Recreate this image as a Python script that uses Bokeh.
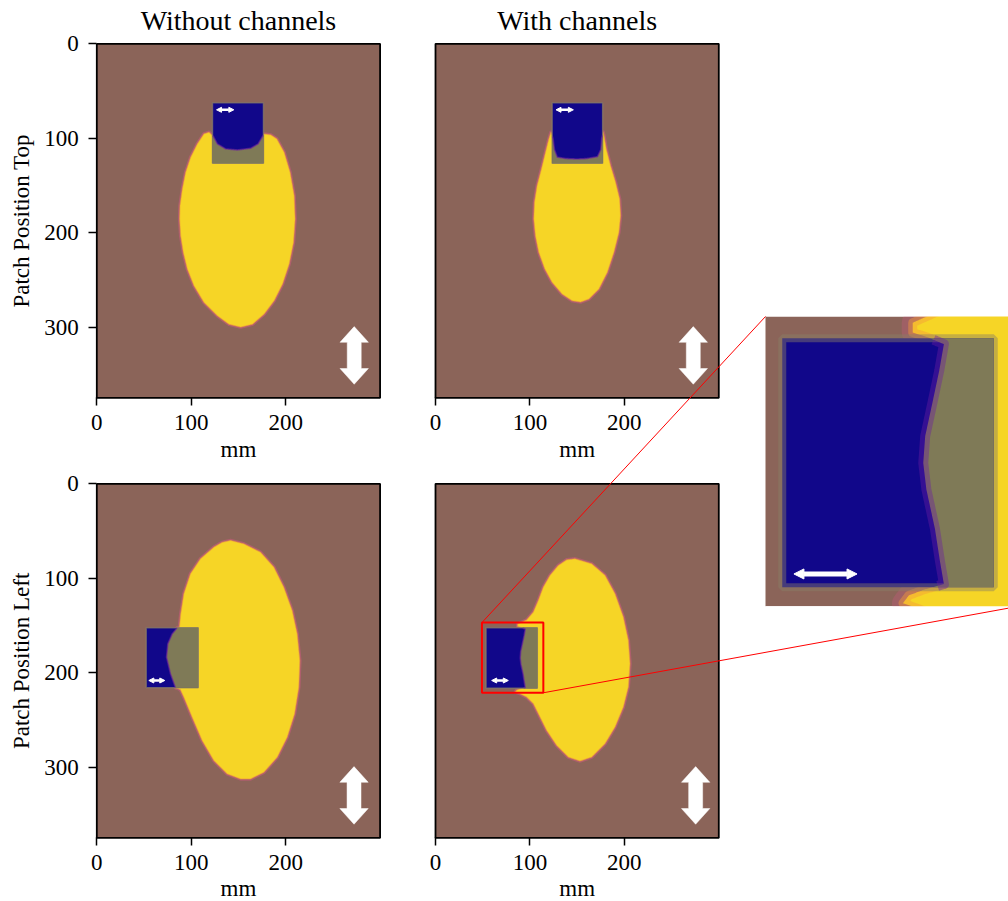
import numpy as np
from bokeh.plotting import figure
from bokeh.models import Range1d, LinearAxis, FixedTicker, Arrow, NormalHead
from bokeh.core.properties import value
from bokeh.embed import file_html
from bokeh.resources import INLINE

# ---------------------------------------------------------------- data
TITLES = ["Without channels", "With channels"]
ROW_LABELS = ["Patch Position Top", "Patch Position Left"]
X_LABEL = "mm"
X_TICKS = [0, 100, 200]
Y_TICKS = [0, 100, 200, 300]
X_EXTENT = [0, 300]
Y_EXTENT = [0, 375]

# blob outlines in mm
TL_BLOB_X = [118.8, 113.5, 106.5, 99.4, 94.1, 90.6, 88.1, 87.7, 88.8, 91.6,
             95.9, 102.9, 113.5, 127.7, 140.0, 152.4, 164.8, 177.2, 187.8, 196.7,
             203.7, 208.3, 210.0, 209.0, 204.7, 198.4, 190.6, 184.3, 177.2, 175.5,
             170.8, 163.0, 148.9, 136.5, 127.7, 123.5]
TL_BLOB_Y = [93.7, 95.4, 106.0, 120.2, 136.1, 153.7, 171.4, 185.5, 203.2, 220.9,
             238.5, 256.2, 273.9, 288.0, 297.0, 300.0, 297.0, 286.2, 272.1, 254.4,
             233.2, 210.3, 185.5, 160.8, 136.1, 114.9, 100.7, 96.5, 95.5, 98.0,
             106.0, 110.6, 112.4, 111.3, 106.0, 98.0]

TR_BLOB_X = [122.3, 120.0, 116.5, 112.2, 107.6, 104.8, 104.1, 105.8, 109.4, 115.8,
             123.5, 134.1, 144.7, 153.6, 162.4, 173.0, 181.9, 188.9, 194.2, 196.0,
             195.0, 190.7, 185.4, 180.8, 178.4, 177.5, 176.0, 175.0, 171.5, 160.0,
             150.0, 138.0, 129.0, 126.0, 124.5]
TR_BLOB_Y = [93.5, 100.9, 114.9, 132.5, 150.2, 167.9, 185.5, 203.2, 220.9, 238.5,
             252.6, 265.0, 272.1, 273.5, 270.3, 259.7, 242.1, 220.9, 199.7, 182.0,
             164.4, 146.7, 129.1, 111.4, 97.3, 93.5, 100.0, 112.0, 119.5, 121.5,
             122.0, 121.5, 120.0, 112.0, 100.0]

BL_BLOB_X = [141.6, 155.7, 173.3, 187.5, 198.0, 206.9, 212.2, 215.0, 213.9, 209.4,
             201.6, 191.0, 176.9, 162.8, 152.2, 138.1, 124.0, 111.6, 101.0, 92.2,
             88.5, 86.0, 83.3, 78.0, 73.8, 75.2, 79.8, 85.1, 87.5, 88.9,
             92.2, 99.2, 109.8, 124.0, 132.8]
BL_BLOB_Y = [60.0, 63.6, 72.4, 88.3, 109.5, 134.2, 158.9, 187.2, 215.4, 243.7,
             268.4, 289.6, 305.5, 312.5, 312.5, 307.2, 293.1, 271.9, 247.2, 226.0,
             218.0, 216.8, 216.0, 201.2, 183.6, 169.5, 159.0, 152.5, 151.5, 137.7,
             116.5, 95.3, 79.4, 67.1, 62.0]

BR_BLOB_X = [147.7, 165.4, 179.5, 190.1, 198.9, 204.2, 206.0, 204.2, 198.9, 190.1,
             179.5, 165.4, 153.0, 140.7, 128.3, 117.7, 108.9, 103.6, 96.5, 89.5,
             84.5, 86.0, 90.0, 95.0, 94.0, 92.7, 90.5, 89.7, 90.2, 92.0,
             93.8, 95.0, 91.0, 87.0, 87.0, 91.5, 96.5, 103.6, 108.9, 114.2,
             121.2, 130.0, 138.9]
BR_BLOB_Y = [79.4, 84.7, 96.9, 116.4, 141.1, 165.8, 190.5, 215.2, 236.4, 257.6,
             275.2, 289.4, 293.6, 289.4, 277.0, 261.1, 243.4, 232.8, 225.8, 222.3,
             220.5, 218.5, 217.0, 215.6, 209.8, 201.4, 191.3, 184.5, 177.6, 169.3,
             160.8, 154.0, 152.3, 151.0, 148.5, 146.5, 144.2, 135.9, 123.5, 109.4,
             97.1, 86.5, 80.5]

# patch boxes [x0, x1, y0, y1] in mm
TL_PATCH = [122.5, 176.5, 62.5, 126.5]
TR_PATCH = [123.5, 177.0, 62.5, 126.5]
BL_PATCH = [52.3, 107.4, 152.5, 216.0]
BR_PATCH = [53.5, 107.8, 152.5, 216.4]

# small horizontal double arrows: [x0, x1], y
TL_ARROW_X, TL_ARROW_Y = [126.8, 145.1], 69.9
TR_ARROW_X, TR_ARROW_Y = [127.6, 146.0], 69.9
BL_ARROW_X, BL_ARROW_Y = [55.1, 72.0], 208.3
BR_ARROW_X, BR_ARROW_Y = [59.5, 77.1], 208.3

# big vertical double arrows: centre x per panel, [y top, y bottom]
BIG_ARROW_CX = {"TL": 272.6, "TR": 273.0, "BL": 272.4, "BR": 275.5}
BIG_ARROW_Y = [299.5, 360.5]

# zoomed region (bottom-right panel) and the inset's own arrow
ZOOM_X = [49.2, 114.2]
ZOOM_Y = [146.9, 221.3]
INSET_ARROW_X, INSET_ARROW_Y = [56.5, 72.7], 213.0

# ---------------------------------------------------------------- layout / style
W, H = 1008, 901
S = 0.9443                              # px per mm in the four panels
ORIGINS = {"TL": (96.3, 43.3), "TR": (435.0, 43.3),
           "BL": (96.3, 483.3), "BR": (435.0, 483.3)}
INSET_PX = (765.0, 316.0)               # canvas px of (ZOOM_X[0], ZOOM_Y[0])
INSET_S = 3.895

FONT = "Liberation Serif"
BROWN = "#8b6459"
YELLOW = "#f6d526"
BLUE = "#11078a"
OLIVE = "#7f7a57"
HALO = "#c65a7c"
ORANGE = "#f39c3c"
PURPLE = "#6b1fa0"
PEDGE = "#8a7e66"

p = figure(width=W, height=H, x_range=Range1d(0, W), y_range=Range1d(H, 0),
           output_backend="svg", toolbar_location=None, tools="",
           x_axis_location=None, y_axis_location=None, min_border=0)
p.outline_line_color = None
p.title.visible = False
p.grid.visible = False
p.background_fill_color = "white"
p.border_fill_color = "white"

xr, yr = {}, {}
MAP = {}


def add_space(name, px0, py0, s, x0=0.0, y0=0.0):
    xr[name + "x"] = Range1d(x0 - px0 / s, x0 + (W - px0) / s)
    yr[name + "y"] = Range1d(y0 + (H - py0) / s, y0 - py0 / s)
    MAP[name] = (px0, py0, s, x0, y0)


def to_canvas(name, x, y):
    px0, py0, s, x0, y0 = MAP[name]
    return px0 + (x - x0) * s, py0 + (y - y0) * s


for k, (ox, oy) in ORIGINS.items():
    add_space(k, ox, oy, S)
add_space("IN", INSET_PX[0], INSET_PX[1], INSET_S, ZOOM_X[0], ZOOM_Y[0])
p.extra_x_ranges = xr
p.extra_y_ranges = yr


def densify(xs, ys, step=0.2):
    xs = list(xs) + [xs[0]]
    ys = list(ys) + [ys[0]]
    ox, oy = [], []
    for i in range(len(xs) - 1):
        n = max(1, int(np.hypot(xs[i + 1] - xs[i], ys[i + 1] - ys[i]) / step))
        t = np.arange(n) / n
        ox.extend(xs[i] + t * (xs[i + 1] - xs[i]))
        oy.extend(ys[i] + t * (ys[i + 1] - ys[i]))
    ox.append(xs[0])
    oy.append(ys[0])
    return np.array(ox), np.array(oy)


def draw_scene(name, bx, by, patch, ax, ay, st):
    kw = dict(x_range_name=name + "x", y_range_name=name + "y")
    dx, dy = densify(bx, by)
    # soft edge of the blob + the blob
    p.patch(dx, dy, fill_color=None, line_color=HALO, line_width=st["halo_w"],
            line_alpha=st["halo_a"], line_join="round", **kw)
    p.patch(dx, dy, fill_color=YELLOW, line_color=ORANGE, line_width=st["or_w"],
            line_alpha=st["or_a"], line_join="round", **kw)
    # patch
    x0, x1, y0, y1 = patch
    p.quad(left=[x0], right=[x1], top=[y0], bottom=[y1], fill_color=BLUE,
           line_color=PEDGE, line_width=st["pe_w"], line_alpha=st["pe_a"], **kw)
    # blob inside the patch
    cx = np.clip(dx, x0, x1)
    cy = np.clip(dy, y0, y1)
    p.patch(cx, cy, fill_color=OLIVE, line_color=None, **kw)
    tol = 0.3
    inside = (dx > x0 + tol) & (dx < x1 - tol) & (dy > y0 + tol) & (dy < y1 - tol)
    lx = np.where(inside, dx, np.nan)
    ly = np.where(inside, dy, np.nan)
    p.line(lx, ly, line_color=PURPLE, line_width=st["pu_w"], line_alpha=st["pu_a"],
           line_join="round", **kw)
    # small double arrow
    head = dict(size=st["head"], fill_color="white", line_color="white", line_width=1)
    p.add_layout(Arrow(start=NormalHead(**head), end=NormalHead(**head),
                       x_start=ax[0], y_start=ay, x_end=ax[1], y_end=ay,
                       line_color="white", line_width=st["shaft"], **kw))


PANEL_STYLE = dict(halo_w=3.5, halo_a=0.6, or_w=1.2, or_a=0.55, pe_w=1.5, pe_a=0.7,
                   pu_w=1.6, pu_a=0.6, head=5, shaft=2.5)
INSET_STYLE = dict(halo_w=22, halo_a=0.35, or_w=9, or_a=0.45, pe_w=8, pe_a=0.45,
                   pu_w=10, pu_a=0.4, head=10, shaft=5)

PANELS = {
    "TL": (TL_BLOB_X, TL_BLOB_Y, TL_PATCH, TL_ARROW_X, TL_ARROW_Y),
    "TR": (TR_BLOB_X, TR_BLOB_Y, TR_PATCH, TR_ARROW_X, TR_ARROW_Y),
    "BL": (BL_BLOB_X, BL_BLOB_Y, BL_PATCH, BL_ARROW_X, BL_ARROW_Y),
    "BR": (BR_BLOB_X, BR_BLOB_Y, BR_PATCH, BR_ARROW_X, BR_ARROW_Y),
}

HEAD_HALF, SHAFT_HALF, HEAD_LEN = 15.0, 7.4, 16.6


def axis_style(ax, standoff):
    ax.axis_line_color = None
    ax.major_tick_line_color = "black"
    ax.major_tick_line_width = 1.5
    ax.major_tick_in = 0
    ax.major_tick_out = 8
    ax.minor_tick_line_color = None
    ax.major_label_text_font = FONT
    ax.major_label_text_font_size = "23px"
    ax.major_label_text_color = "black"
    ax.major_label_standoff = standoff


for k, (bx, by, patch, ax_, ay_) in PANELS.items():
    kw = dict(x_range_name=k + "x", y_range_name=k + "y")
    p.quad(left=[X_EXTENT[0]], right=[X_EXTENT[1]], top=[Y_EXTENT[0]], bottom=[Y_EXTENT[1]],
           fill_color=BROWN, line_color=None, **kw)
    draw_scene(k, bx, by, patch, ax_, ay_, PANEL_STYLE)
    # big vertical double arrow
    c = BIG_ARROW_CX[k]
    t, b = BIG_ARROW_Y
    ax_pts = [c, c + HEAD_HALF, c + SHAFT_HALF, c + SHAFT_HALF, c + HEAD_HALF, c,
              c - HEAD_HALF, c - SHAFT_HALF, c - SHAFT_HALF, c - HEAD_HALF]
    ay_pts = [t, t + HEAD_LEN, t + HEAD_LEN, b - HEAD_LEN, b - HEAD_LEN, b,
              b - HEAD_LEN, b - HEAD_LEN, t + HEAD_LEN, t + HEAD_LEN]
    p.patch(ax_pts, ay_pts, fill_color="white", line_color="white", line_width=0.5, **kw)
    # frame
    p.quad(left=[X_EXTENT[0]], right=[X_EXTENT[1]], top=[Y_EXTENT[0]], bottom=[Y_EXTENT[1]],
           fill_color=None, line_color="black", line_width=1.8, **kw)
    # axes
    xa = LinearAxis(fixed_location=Y_EXTENT[1], bounds=(X_EXTENT[0], X_EXTENT[1]),
                    ticker=FixedTicker(ticks=X_TICKS), **kw)
    axis_style(xa, 9)
    p.add_layout(xa, "below")
    if k in ("TL", "BL"):
        ya = LinearAxis(fixed_location=X_EXTENT[0], bounds=(Y_EXTENT[0], Y_EXTENT[1]),
                        ticker=FixedTicker(ticks=Y_TICKS), **kw)
        axis_style(ya, 10)
        p.add_layout(ya, "left")

# zoom rectangle in the bottom-right panel
p.quad(left=[ZOOM_X[0]], right=[ZOOM_X[1]], top=[ZOOM_Y[0]], bottom=[ZOOM_Y[1]],
       fill_color=None, line_color="red", line_width=2,
       x_range_name="BRx", y_range_name="BRy")

# inset: zoomed view of the same region
kwi = dict(x_range_name="INx", y_range_name="INy")
p.quad(left=[ZOOM_X[0]], right=[ZOOM_X[1]], top=[ZOOM_Y[0]], bottom=[ZOOM_Y[1]],
       fill_color=BROWN, line_color=None, **kwi)
draw_scene("IN", BR_BLOB_X, BR_BLOB_Y, BR_PATCH, INSET_ARROW_X, INSET_ARROW_Y, INSET_STYLE)
# keep the inset to its box
p.quad(left=[ZOOM_X[0]], right=[ZOOM_X[0] + 200], top=[ZOOM_Y[0] - 200], bottom=[ZOOM_Y[0]],
       fill_color="white", line_color=None, **kwi)
p.quad(left=[ZOOM_X[0]], right=[ZOOM_X[0] + 200], top=[ZOOM_Y[1]], bottom=[ZOOM_Y[1] + 200],
       fill_color="white", line_color=None, **kwi)

# connector lines
a0 = to_canvas("BR", ZOOM_X[0], ZOOM_Y[0])
a1 = to_canvas("IN", ZOOM_X[0], ZOOM_Y[0])
b0 = to_canvas("BR", ZOOM_X[1], ZOOM_Y[1])
b1 = to_canvas("IN", ZOOM_X[1], ZOOM_Y[1])
p.line([a0[0], a1[0]], [a0[1], a1[1]], line_color="red", line_width=1)
p.line([b0[0], b1[0]], [b0[1], b1[1]], line_color="red", line_width=1)

# texts
tx = [to_canvas("TL", 150, 0)[0], to_canvas("TR", 150, 0)[0]]
p.text(x=tx, y=[20.0, 20.0], text=TITLES, text_font=value(FONT),
       text_font_size=value("28px"), text_align="center", text_baseline="alphabetic",
       text_color="black")
p.text(x=tx + tx, y=[449.0, 449.0, 888.0, 888.0], text=[X_LABEL] * 4, text_font=value(FONT),
       text_font_size=value("23px"), text_align="center", text_baseline="alphabetic",
       text_color="black")
ry = [to_canvas("TL", 0, 187.5)[1], to_canvas("BL", 0, 187.5)[1]]
p.text(x=[21.0, 21.0], y=ry, text=ROW_LABELS, text_font=value(FONT),
       text_font_size=value("23px"), text_align="center", text_baseline="alphabetic",
       text_color="black", angle=np.pi / 2)

open("out.html", "w").write(file_html(p, INLINE))
